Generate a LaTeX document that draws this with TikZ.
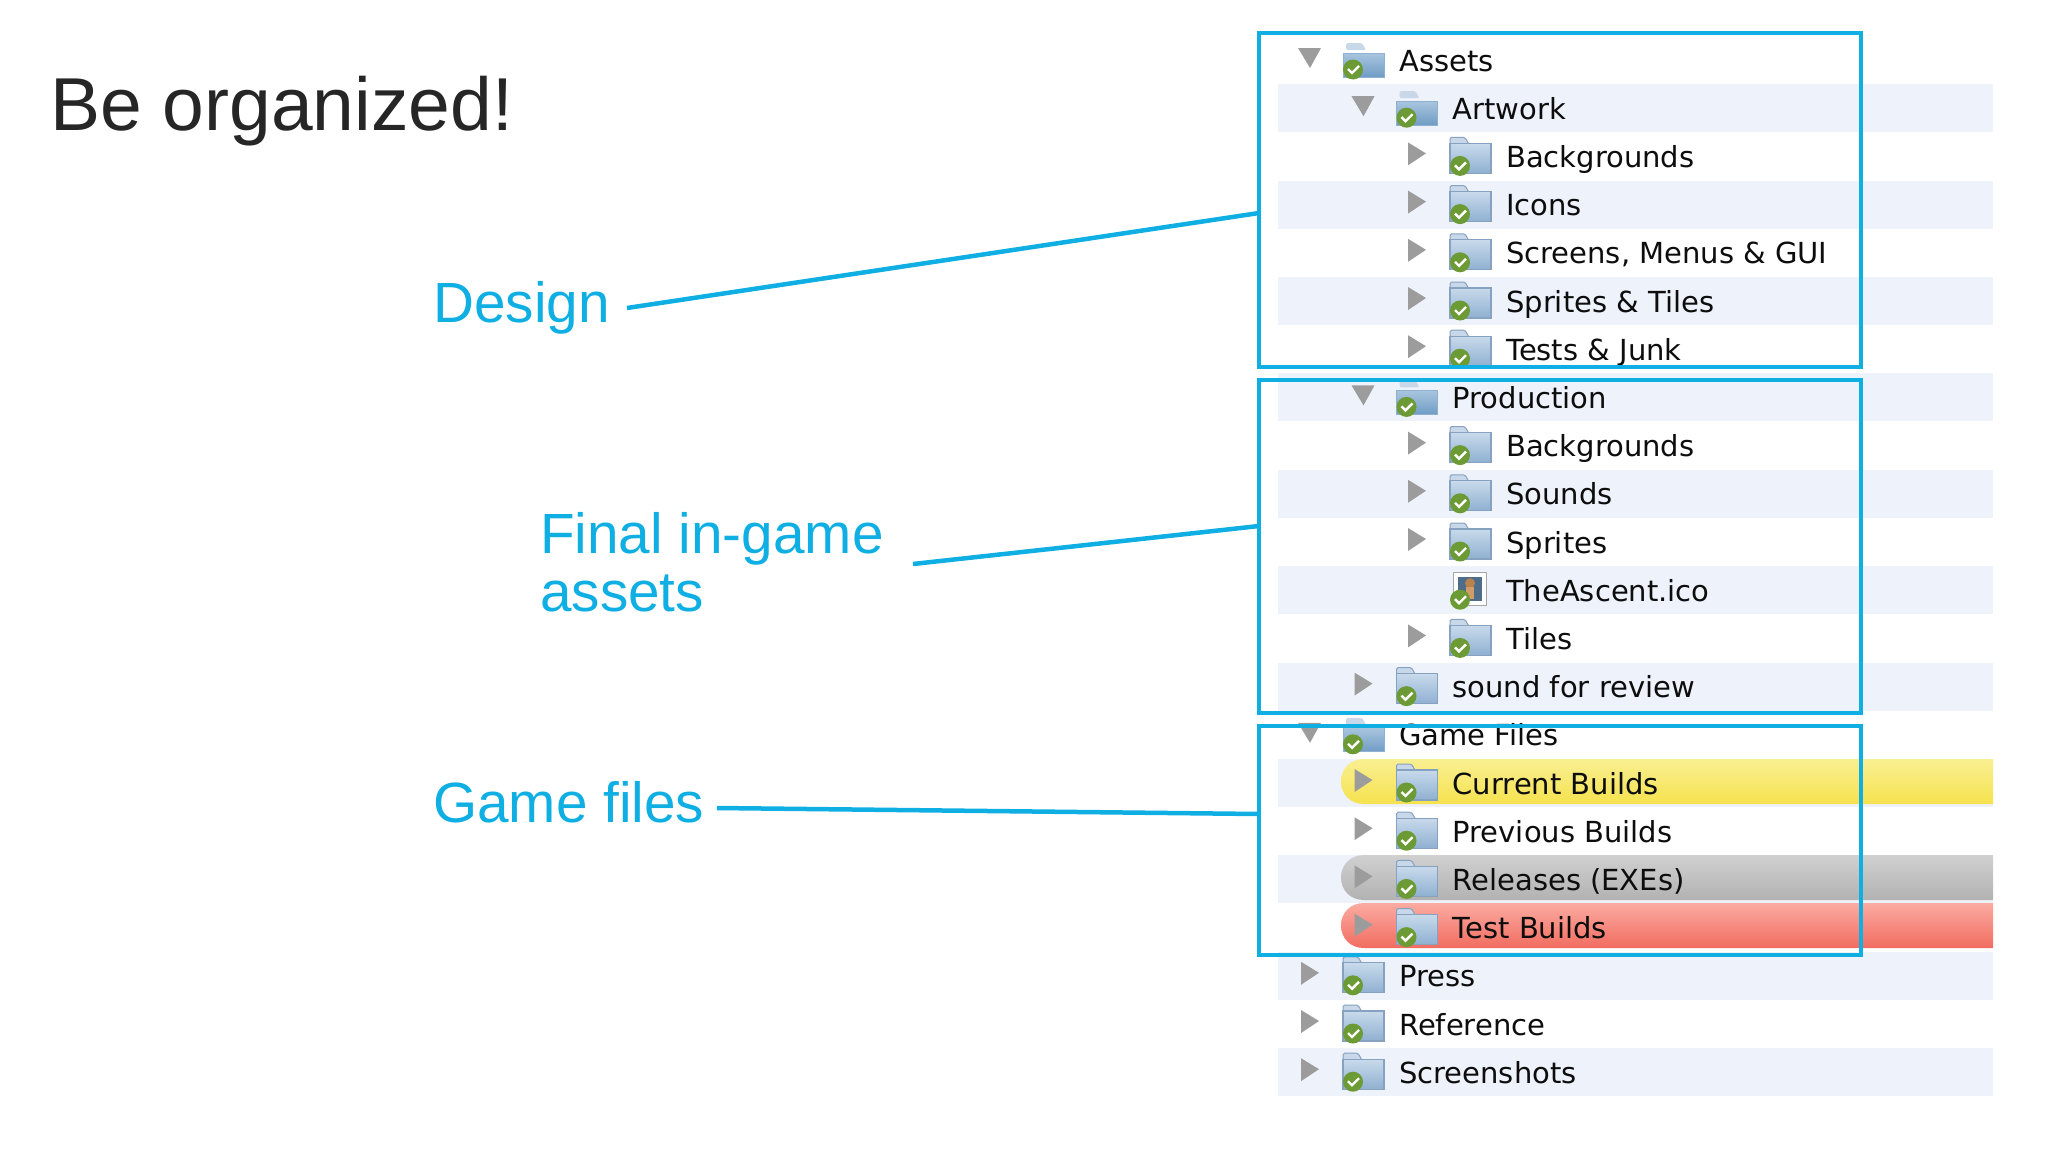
\documentclass[tikz,border=0pt]{standalone}
\usepackage{fontspec}
\setmainfont{Liberation Sans}
\newfontfamily\treefont{DejaVu Sans}
\definecolor{calloutblue}{HTML}{0FAEE3}
\definecolor{bandblue}{HTML}{EEF2FB}
\definecolor{arrowgray}{HTML}{9C9C9C}
\definecolor{badgegreen}{HTML}{6C9A35}
\definecolor{foldertab}{HTML}{C9D8E8}
\definecolor{foldertop}{HTML}{C8DAEB}
\definecolor{folderbot}{HTML}{8FB0D1}
\definecolor{folderedge}{HTML}{86A2C0}
\definecolor{opentop}{HTML}{A9C5DE}
\definecolor{openbot}{HTML}{6F9CC5}
\definecolor{yellowtop}{HTML}{F8EF92}
\definecolor{yellowbot}{HTML}{F6E24E}
\definecolor{graytop}{HTML}{D0D0D0}
\definecolor{graybot}{HTML}{B2B2B2}
\definecolor{redtop}{HTML}{FBABA2}
\definecolor{redbot}{HTML}{F26C60}
\tikzset{
  callout/.style={draw=calloutblue, line width=4.5pt},
  groupbox/.style={draw=calloutblue, line width=4.5pt, inner sep=0pt, outer sep=0pt, anchor=north west},
  grouplabel/.style={text=calloutblue, inner sep=0pt, anchor=base west, font=\fontsize{56.7}{58}\selectfont, align=left},
  treelabel/.style={text=black!95, inner sep=0pt, anchor=base west, font=\treefont\fontsize{29}{30}\selectfont},
  pics/treeright/.style={code={\fill[arrowgray] (1301,-14) -- (1319,-3) -- (1301,9) -- cycle;}},
  pics/treedown/.style={code={\fill[arrowgray] (1298,-12) -- (1321,-12) -- (1310,8) -- cycle;}},
  pics/treenone/.style={code={}},
  pics/treebadge/.style={code={
    \fill[badgegreen] (1353,9.5) circle (10);
    \draw[white, line width=2.4pt] (1348,9) -- (1352,13) -- (1359,6);
  }},
  pics/foldershut/.style={code={
    \fill[foldertab, draw=folderedge, line width=1pt, rounded corners=1.5pt] (1343,-12) -- (1343,-19) -- (1358,-19) -- (1362,-12) -- cycle;
    \shade[top color=foldertop, bottom color=folderbot, draw=folderedge, line width=1.2pt] (1343,-13) rectangle (1384,17);
    \pic {treebadge};
  }},
  pics/folderopen/.style={code={
    \fill[foldertab, rounded corners=1.5pt] (1346,-10) -- (1346,-17) -- (1362,-17) -- (1366,-10) -- cycle;
    \shade[top color=opentop, bottom color=openbot, draw=folderbot, line width=1pt] (1343,-7) rectangle (1384,17);
    \pic {treebadge};
  }},
  pics/icofile/.style={code={
    \fill[white, draw=black!35, line width=1pt] (1346,-18) rectangle (1379,15);
    \fill[openbot!70!black] (1351,-13) rectangle (1375,11);
    \fill[orange!60!black!70] (1363,-7) circle (5);
    \fill[orange!70!black!60] (1359,-3) rectangle (1367,9);
    \pic {treebadge};
  }},
}
\begin{document}
\begin{tikzpicture}[x=1pt, y=-1pt]
  \useasboundingbox (0,0) rectangle (2048,1154);

  % Stripes
  \foreach \rownum in {1,3,...,21} {
    \pgfmathsetmacro{\rowy}{60+48.2*\rownum}
    \fill[bandblue] (1278,\rowy-24) rectangle (1993,\rowy+24);
  }

  % Colour labels
  \foreach \bandy/\topcol/\botcol in {759/yellowtop/yellowbot, 855/graytop/graybot, 903/redtop/redbot} {
    \shade[top color=\topcol, bottom color=\botcol] (1993,\bandy) -- (1364,\bandy)
      .. controls (1350,\bandy) and (1341,\bandy+10) .. (1341,\bandy+22.5)
      .. controls (1341,\bandy+35) and (1350,\bandy+45) .. (1364,\bandy+45) -- (1993,\bandy+45) -- cycle;
  }

  % Tree rows
  \foreach \rownum/\lvl/\arrowkind/\iconkind/\rowtext in {
    0/0/treedown/folderopen/Assets,
    1/1/treedown/folderopen/Artwork,
    2/2/treeright/foldershut/Backgrounds,
    3/2/treeright/foldershut/Icons,
    4/2/treeright/foldershut/{Screens, Menus \& GUI},
    5/2/treeright/foldershut/{Sprites \& Tiles},
    6/2/treeright/foldershut/{Tests \& Junk},
    7/1/treedown/folderopen/Production,
    8/2/treeright/foldershut/Backgrounds,
    9/2/treeright/foldershut/Sounds,
    10/2/treeright/foldershut/Sprites,
    11/2/treenone/icofile/TheAscent.ico,
    12/2/treeright/foldershut/Tiles,
    13/1/treeright/foldershut/{sound for review},
    14/0/treedown/folderopen/{Game Files},
    15/1/treeright/foldershut/{Current Builds},
    16/1/treeright/foldershut/{Previous Builds},
    17/1/treeright/foldershut/{Releases (EXEs)},
    18/1/treeright/foldershut/{Test Builds},
    19/0/treeright/foldershut/Press,
    20/0/treeright/foldershut/Reference,
    21/0/treeright/foldershut/Screenshots} {
    \pgfmathsetmacro{\rowy}{60+48.2*\rownum}
    \pgfmathsetmacro{\rowx}{53.5*\lvl}
    \pic at (\rowx,\rowy) {\arrowkind};
    \pic at (\rowx,\rowy) {\iconkind};
    \node[treelabel] (row\rownum) at (1399+\rowx,\rowy+11) {\rowtext};
  }

  % Group boxes
  \node[groupbox, minimum width=602pt, minimum height=334pt] (designbox) at (1259,33) {};
  \node[groupbox, minimum width=602pt, minimum height=333pt] (finalbox) at (1259,380) {};
  \node[groupbox, minimum width=602pt, minimum height=229pt] (gamebox) at (1259,726) {};

  % Title and labels
  \node[inner sep=0pt, anchor=base west, text=black!85, font=\fontsize{75}{75}\selectfont] (title) at (50,130) {Be organized!};
  \node[grouplabel] (design) at (433,322) {Design};
  \node[grouplabel] (final) at (540,611) {Final in-game\\assets};
  \node[grouplabel] (game) at (433,822) {Game files};

  % Connectors
  \coordinate (designstart) at (627,308);
  \coordinate (finalstart) at (913,564);
  \coordinate (gamestart) at (717,808);
  \coordinate (designend) at (designbox.west |- 0,213);
  \coordinate (finalend) at (finalbox.west |- 0,526);
  \coordinate (gameend) at (gamebox.west |- 0,814);
  \draw[callout] (designstart) -- (designend);
  \draw[callout] (finalstart) -- (finalend);
  \draw[callout] (gamestart) -- (gameend);
\end{tikzpicture}
\end{document}
